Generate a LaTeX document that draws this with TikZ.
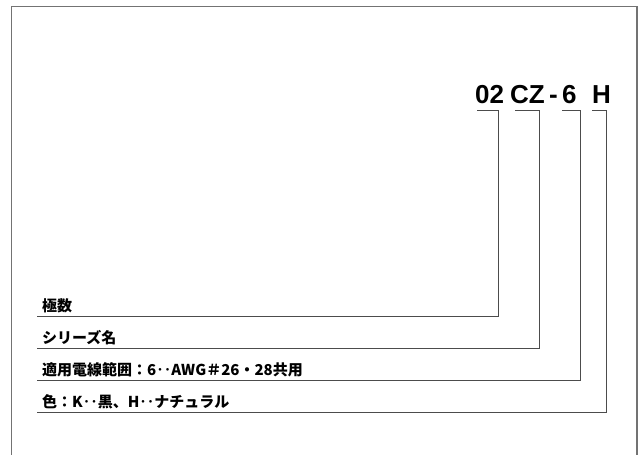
\documentclass[tikz,border=0pt]{standalone}
\usepackage{fontspec}
\setmainfont{Liberation Sans}
\newfontfamily\cjk{Noto Sans CJK JP}
\begin{document}
\begin{tikzpicture}[x=1pt,y=-1pt,
  code/.style={font=\fontsize{26}{28}\selectfont\bfseries, inner sep=0pt, anchor=base west},
  lbl/.style={font=\cjk\fontsize{15}{17}\selectfont\bfseries, inner sep=0pt, anchor=base west},
  frame/.style={draw=black!55, line width=1.4pt},
  lead/.style={draw=black!70, line width=1pt}]
\useasboundingbox (0,0) rectangle (638,455);
\draw[frame] (11.5,455) -- (11.5,6.5) -- (637,6.5) -- (637,455);
% code text
\node[code] (c02) at (475,103) {02};
\node[code] (ccz) at (510,103) {CZ};
\node[code] (cdash) at (549,103) {-};
\node[code] (c6) at (562,103) {6};
\node[code] (ch) at (592,103) {H};
% labels
\node[lbl] (l1) at (42,311) {極数};
\node[lbl] (l2) at (42,343) {シリーズ名};
\node[lbl] (l3) at (42,375) {適用電線範囲：6‥AWG＃26・28共用};
\node[lbl] (l4) at (42,407) {色：K‥黒、H‥ナチュラル};
% coordinates
\coordinate (a1) at (477,110); \coordinate (b1) at (498.5,110); \coordinate (d1) at (498.5,316); \coordinate (e1) at (37,316);
\coordinate (a2) at (515,110); \coordinate (b2) at (539.5,110); \coordinate (d2) at (539.5,348); \coordinate (e2) at (37,348);
\coordinate (a3) at (562,110); \coordinate (b3) at (580.5,110); \coordinate (d3) at (580.5,380); \coordinate (e3) at (37,380);
\coordinate (a4) at (592,110); \coordinate (b4) at (606.5,110); \coordinate (d4) at (606.5,412); \coordinate (e4) at (37,412);
\draw[lead] (a1) -- (b1) -- (d1) -- (e1);
\draw[lead] (a2) -- (b2) -- (d2) -- (e2);
\draw[lead] (a3) -- (b3) -- (d3) -- (e3);
\draw[lead] (a4) -- (b4) -- (d4) -- (e4);
\end{tikzpicture}
\end{document}
